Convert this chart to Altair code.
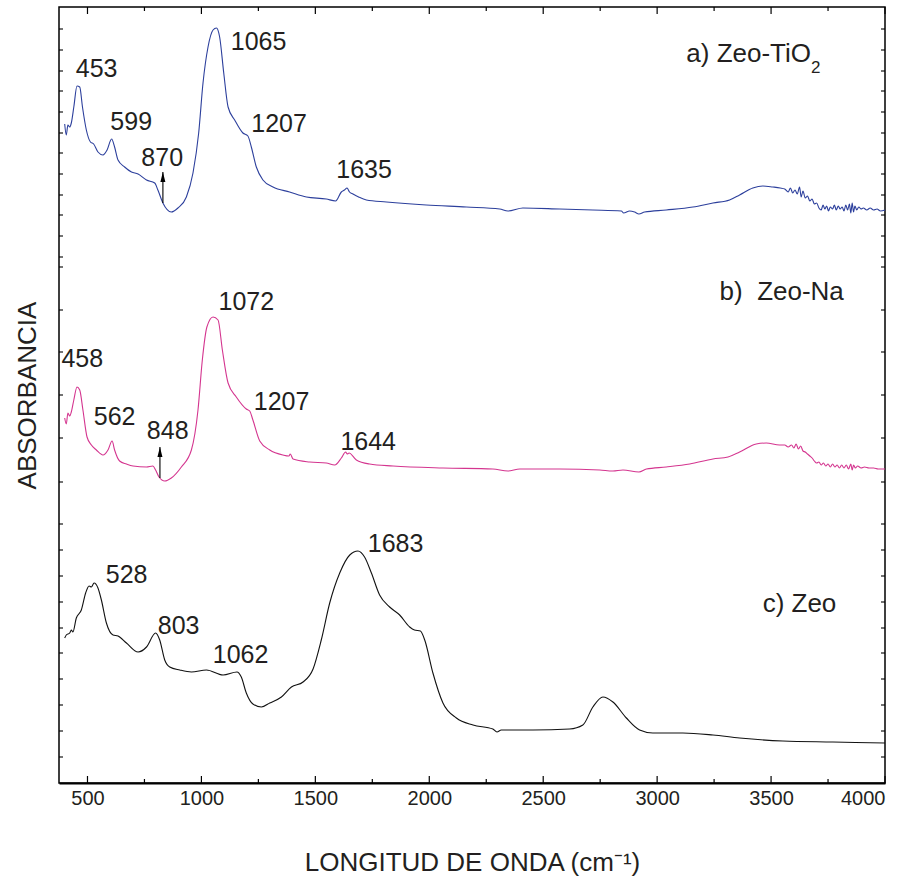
import altair as alt
import pandas as pd

W, H = 826, 776

# ---------------- spectra (wavenumber cm-1, absorbance a.u.) ----------------
a_wn = [400, 407, 414, 422, 429, 440, 454, 466, 478, 495, 513, 527, 546, 568, 586, 606, 619, 634,
        663, 693, 722, 759, 795, 809, 831, 868, 897, 934, 963, 988, 1007, 1029, 1051, 1066, 1080,
        1098, 1117, 1146, 1182, 1204, 1219, 1241, 1270, 1314, 1387, 1461, 1548, 1589, 1614, 1628,
        1639, 1650, 1665, 1690, 1724, 1812, 1987, 2163, 2309, 2345, 2411, 2572, 2718, 2843, 2853,
        2879, 2901, 2920, 2945, 3040, 3157, 3245, 3318, 3362, 3420, 3464, 3508, 3540,
        3560, 3575, 3585, 3595, 3605, 3615, 3625, 3632, 3640, 3650, 3660, 3670, 3680, 3690, 3700,
        3710, 3720, 3728, 3736, 3744, 3752, 3760, 3770, 3778, 3786, 3795, 3803, 3812, 3820, 3828,
        3836, 3844, 3850, 3856, 3862, 3868, 3876, 3885, 3895, 3905, 3920, 3935, 3950, 3965, 3980, 4000]
a_ab = [6.59, 6.48, 6.58, 6.56, 6.60, 6.76, 6.97, 6.96, 6.76, 6.53, 6.41, 6.39, 6.31, 6.28, 6.33, 6.44, 6.36, 6.23,
        6.16, 6.11, 6.09, 6.03, 6.00, 5.93, 5.80, 5.71, 5.75, 5.86, 6.10, 6.50, 7.00, 7.36, 7.53, 7.55, 7.46,
        7.10, 6.76, 6.63, 6.50, 6.47, 6.36, 6.16, 6.03, 5.96, 5.91, 5.86, 5.84, 5.82, 5.91, 5.93,
        5.95, 5.91, 5.89, 5.86, 5.83, 5.81, 5.78, 5.76, 5.74, 5.72, 5.75, 5.74, 5.73, 5.72, 5.70,
        5.72, 5.71, 5.69, 5.71, 5.73, 5.76, 5.80, 5.83, 5.88, 5.95, 5.97, 5.96, 5.95,
        5.94, 5.91, 5.95, 5.90, 5.93, 5.89, 5.96, 5.86, 5.92, 5.85, 5.87, 5.82, 5.84, 5.79, 5.80,
        5.75, 5.73, 5.78, 5.74, 5.77, 5.72, 5.76, 5.74, 5.78, 5.73, 5.77, 5.74, 5.76, 5.72, 5.78,
        5.73, 5.79, 5.70, 5.80, 5.71, 5.77, 5.73, 5.76, 5.74, 5.75, 5.73, 5.75, 5.73, 5.74, 5.72, 5.73]

b_wn = [400, 407, 414, 422, 429, 440, 454, 466, 480, 498, 517, 539, 568, 590, 608, 619, 641, 671,
        700, 759, 787, 799, 814, 839, 868, 912, 956, 985, 1004, 1024, 1051, 1073, 1092, 1117, 1153,
        1197, 1212, 1226, 1256, 1300, 1358, 1384, 1390, 1402, 1475, 1548, 1585, 1614, 1633, 1640,
        1648, 1680, 1738, 1841, 2060, 2279, 2345, 2397, 2572, 2748, 2806, 2850, 2920, 2953, 3040,
        3143, 3245, 3311, 3362, 3435, 3479, 3537,
        3560, 3575, 3590, 3600, 3610, 3620, 3630, 3640, 3650, 3660, 3670, 3680, 3690, 3700, 3710,
        3720, 3730, 3740, 3750, 3760, 3770, 3780, 3790, 3800, 3810, 3820, 3830, 3840, 3850, 3856,
        3862, 3870, 3880, 3895, 3910, 3930, 3950, 3970, 4000]
b_ab = [3.65, 3.59, 3.70, 3.67, 3.71, 3.83, 3.96, 3.93, 3.73, 3.46, 3.38, 3.33, 3.28, 3.33, 3.42, 3.33, 3.22, 3.19,
        3.17, 3.16, 3.17, 3.13, 3.06, 3.02, 3.05, 3.16, 3.33, 3.73, 4.23, 4.56, 4.66, 4.63, 4.33, 4.00, 3.86,
        3.74, 3.72, 3.63, 3.42, 3.33, 3.28, 3.27, 3.29, 3.24, 3.21, 3.20, 3.18, 3.25, 3.31, 3.29,
        3.30, 3.23, 3.19, 3.17, 3.15, 3.14, 3.12, 3.14, 3.14, 3.13, 3.12, 3.13, 3.11, 3.14, 3.16,
        3.19, 3.24, 3.26, 3.31, 3.39, 3.40, 3.38,
        3.38, 3.36, 3.38, 3.35, 3.39, 3.34, 3.37, 3.32, 3.31, 3.29, 3.27, 3.25, 3.22, 3.20, 3.21,
        3.18, 3.20, 3.17, 3.19, 3.16, 3.19, 3.16, 3.18, 3.15, 3.18, 3.15, 3.18, 3.14, 3.19, 3.13,
        3.18, 3.15, 3.17, 3.15, 3.16, 3.15, 3.15, 3.14, 3.14]

c_wn = [400, 407, 422, 429, 436, 451, 473, 492, 507, 517, 529, 546, 561, 583, 612, 634, 671, 722,
        759, 799, 817, 839, 861, 905, 956, 1022, 1095, 1156, 1175, 1197, 1226, 1263, 1300, 1351,
        1395, 1446, 1490, 1526, 1563, 1607, 1651, 1687, 1716, 1746, 1782, 1826, 1870, 1914, 1935,
        1961, 1980, 2016, 2060, 2119, 2192, 2279, 2297, 2316, 2455, 2616, 2674, 2718, 2762, 2806,
        2865, 2923, 2981, 3113, 3245, 3362, 3552, 3771, 4000]
c_ab = [1.45, 1.48, 1.50, 1.53, 1.51, 1.65, 1.73, 1.90, 1.97, 1.96, 2.00, 1.95, 1.83, 1.60, 1.48, 1.47, 1.40, 1.31,
        1.36, 1.50, 1.43, 1.23, 1.16, 1.13, 1.11, 1.13, 1.08, 1.11, 1.06, 0.90, 0.79, 0.76, 0.80, 0.86,
        0.96, 1.01, 1.14, 1.43, 1.80, 2.10, 2.28, 2.32, 2.26, 2.10, 1.88, 1.76, 1.68, 1.56, 1.53,
        1.52, 1.43, 1.10, 0.80, 0.65, 0.58, 0.54, 0.51, 0.53, 0.53, 0.54, 0.58, 0.76, 0.86, 0.81,
        0.65, 0.53, 0.50, 0.50, 0.48, 0.45, 0.42, 0.41, 0.40]

series_names = ["a", "b", "c"]
series_colors = ["#2c3f9c", "#d4358f", "#111111"]

# ---------------- axis ticks ----------------
x_major = [500, 1000, 1500, 2000, 2500, 3000, 3500, 4000]
x_minor = [750, 1250, 1750, 2250, 2750, 3250, 3750]
y_ticks = [7.54, 7.33, 7.12, 6.92, 6.71, 6.50, 6.30, 6.09, 5.88, 5.68, 5.47, 5.26,
           5.16, 4.73, 4.31, 3.88, 3.45, 3.01,
           2.59, 2.33, 2.07, 1.81, 1.55, 1.30, 1.04, 0.78, 0.52, 0.26]

# ---------------- annotations ----------------
peak_labels = ["453", "599", "870", "1065", "1207", "1635",
               "458", "562", "848", "1072", "1207", "1644",
               "528", "803", "1062", "1683"]
peak_x = [540, 692, 828, 1251, 1341, 1714,
          477, 619, 852, 1197, 1352, 1732,
          672, 900, 1172, 1852]
peak_y = [7.14, 6.61, 6.25, 7.415, 6.595, 6.13,
          4.24, 3.66, 3.52, 4.81, 3.81, 3.41,
          2.08, 1.57, 1.28, 2.39]

sample_labels = ["a) Zeo-TiO", "b)\u00a0 Zeo-Na", "c) Zeo"]
sample_x = [3128, 3274, 3463]
sample_y = [7.29, 4.91, 1.79]
sub_labels = ["2"]
sub_x = [3675]
sub_y = [7.15]

arrow_x = [831, 818]
arrow_y0 = [5.80, 3.05]
arrow_y1 = [6.11, 3.36]

# ---------------- build ----------------
rows = []
for name, xs, ys in zip(series_names, [a_wn, b_wn, c_wn], [a_ab, b_ab, c_ab]):
    for xv, yv in zip(xs, ys):
        rows.append({"s": name, "wn": xv, "ab": yv})
df = pd.DataFrame(rows)

NARROW = "Liberation Sans Narrow, Arial Narrow, Liberation Sans"
REG = "Liberation Sans, Arial"
TXT = "#231f20"

xscale = alt.Scale(domain=[375, 4000], nice=False, zero=False)
yscale = alt.Scale(domain=[0, 7.76], nice=False, zero=False)

xaxis = alt.Axis(
    values=x_major, format="d", tickSize=0, grid=False,
    domainColor="#000000", domainWidth=2,
    labelFont=NARROW, labelFontSize=20, labelColor=TXT, labelPadding=5,
    title="LONGITUD DE ONDA (cm\u207b\u00b9)", titleFont=NARROW, titleFontSize=26,
    titleFontWeight="normal", titleColor=TXT, titlePadding=41)
yaxis = alt.Axis(
    labels=False, ticks=False, domain=False, grid=False,
    title="ABSORBANCIA", titleFont=REG, titleFontSize=26, titleFontWeight="normal",
    titleColor=TXT, titlePadding=19)


def X(field):
    return alt.X(field, scale=xscale, axis=xaxis)


def Y(field):
    return alt.Y(field, scale=yscale, axis=yaxis)


lines = alt.Chart(df).mark_line(strokeWidth=1.1, interpolate="monotone").encode(
    x=X("wn:Q"),
    y=Y("ab:Q"),
    color=alt.Color("s:N", scale=alt.Scale(domain=series_names, range=series_colors), legend=None),
    detail="s:N",
)

xmaj = pd.DataFrame({"t": x_major})
xmin = pd.DataFrame({"t": x_minor})
yt = pd.DataFrame({"t": y_ticks})


def xt(data, y0, y1):
    return alt.Chart(data).mark_rule(color="#000000", strokeWidth=1.2).encode(
        x=X("t:Q"), y=alt.value(y0), y2=alt.value(y1))


def ytk(x0, x1):
    return alt.Chart(yt).mark_rule(color="#000000", strokeWidth=1.1).encode(
        y=Y("t:Q"), x=alt.value(x0), x2=alt.value(x1))


ticks = [xt(xmaj, H, H - 7), xt(xmin, H, H - 4), xt(xmaj, 0, 7), xt(xmin, 0, 4),
         ytk(0, 4), ytk(W, W - 4)]

pk = pd.DataFrame({"l": peak_labels, "x": peak_x, "y": peak_y})
peaks = alt.Chart(pk).mark_text(font=REG, fontSize=25, color=TXT, align="center", baseline="middle").encode(
    x=X("x:Q"), y=Y("y:Q"), text="l:N")

sm = pd.DataFrame({"l": sample_labels, "x": sample_x, "y": sample_y})
samples = alt.Chart(sm).mark_text(font=REG, fontSize=26, color=TXT, align="left", baseline="middle").encode(
    x=X("x:Q"), y=Y("y:Q"), text="l:N")

sb = pd.DataFrame({"l": sub_labels, "x": sub_x, "y": sub_y})
subs = alt.Chart(sb).mark_text(font=REG, fontSize=17, color=TXT, align="left", baseline="middle").encode(
    x=X("x:Q"), y=Y("y:Q"), text="l:N")

ar = pd.DataFrame({"x": arrow_x, "y0": arrow_y0, "y1": arrow_y1})
arrow_lines = alt.Chart(ar).mark_rule(color="#000000", strokeWidth=1.1).encode(
    x=X("x:Q"), y=Y("y0:Q"), y2="y1:Q")
arrow_heads = alt.Chart(ar).mark_point(
    shape="M0,-1L0.5,1L-0.5,1Z", filled=True, color="#000000", opacity=1, size=100, yOffset=5,
    strokeWidth=0).encode(x=X("x:Q"), y=Y("y1:Q"))

chart = alt.layer(lines, *ticks, arrow_lines, arrow_heads, peaks, samples, subs).properties(
    width=W, height=H,
    padding={"left": 59, "top": 7, "right": 26, "bottom": 102},
    autosize=alt.AutoSizeParams(type="none"),
    background="white",
).configure_view(stroke="#000000", strokeWidth=1.5)

chart.save("out.html", embed_options={"renderer": "svg", "actions": False})
